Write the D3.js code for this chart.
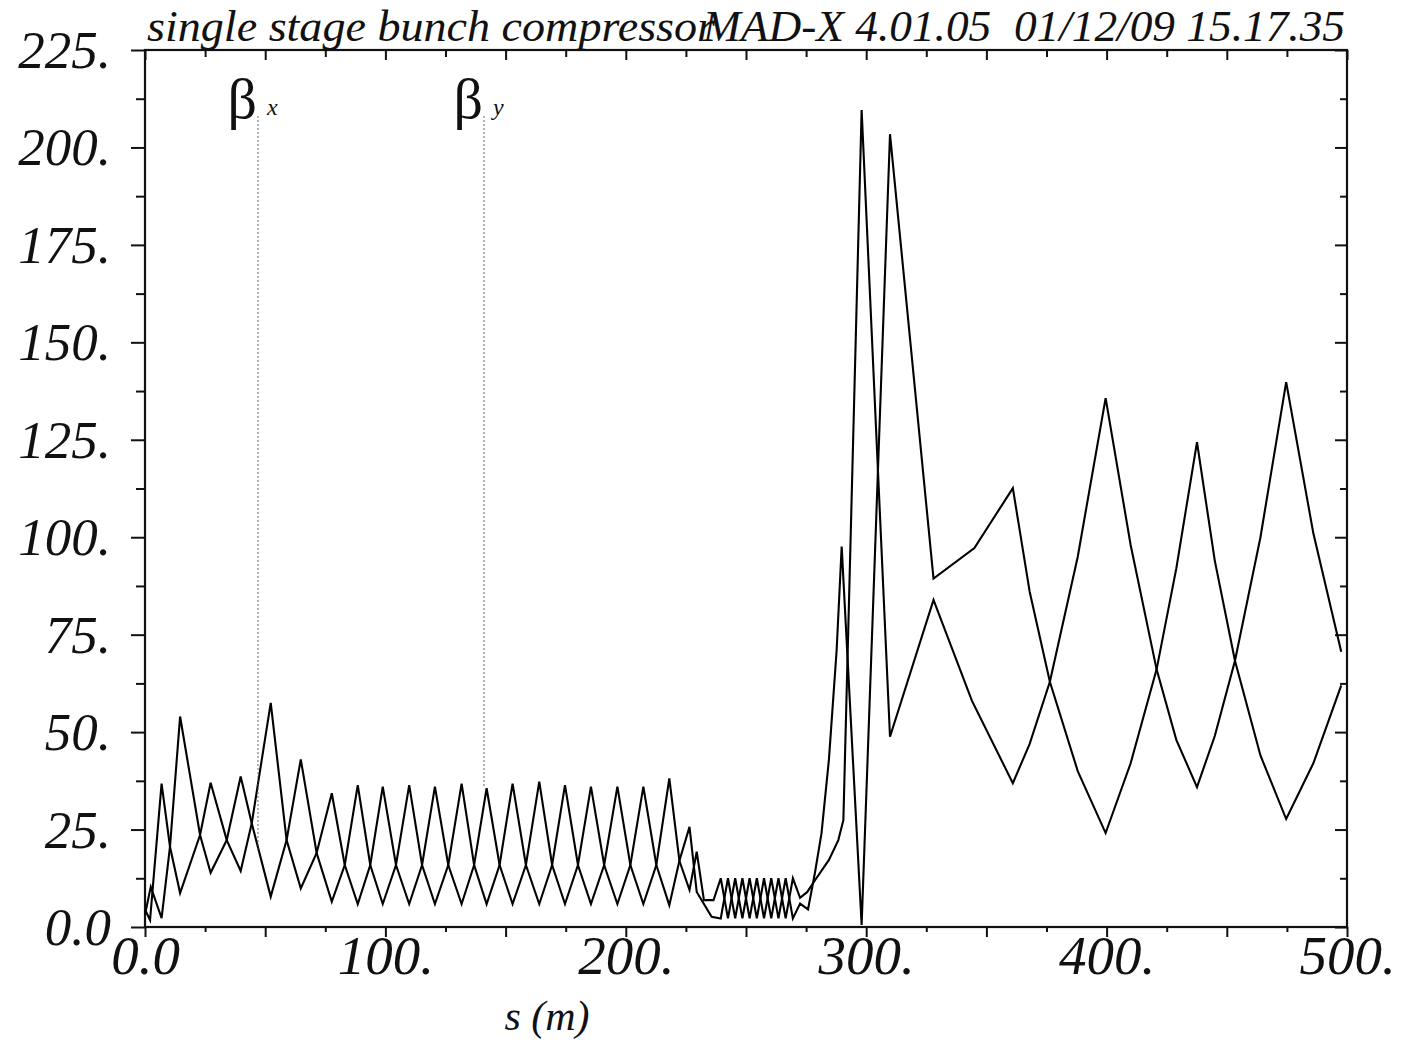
<!DOCTYPE html>
<html>
<head>
<meta charset="utf-8">
<script src="https://cdn.jsdelivr.net/npm/d3@7"></script>
<style>
  body { margin: 0; background: #fff; }
  text { font-family: "Liberation Serif", "DejaVu Serif", serif; }
</style>
</head>
<body>
<div id="chart"></div>
<script>
const TITLE_LEFT = "single stage bunch compressor";
const TITLE_RIGHT = "MAD-X 4.01.05  01/12/09 15.17.35";
const X_LABEL = "s (m)";

const xTicksMajor = [0, 50, 100, 150, 200, 250, 300, 350, 400, 450, 500];
const xTicksMinor = [25, 75, 125, 175, 225, 275, 325, 375, 425, 475];
const xTickLabels = {0: "0.0", 100: "100.", 200: "200.", 300: "300.", 400: "400.", 500: "500."};
const yTicksMajor = [0, 25, 50, 75, 100, 125, 150, 175, 200, 225];
const yTicksMinor = [12.5, 37.5, 62.5, 87.5, 112.5, 137.5, 162.5, 187.5, 212.5];
const yTickLabels = ["0.0", "25.", "50.", "75.", "100.", "125.", "150.", "175.", "200.", "225."];

// beta x
const sBetaX = [0, 2.4, 6.9, 10.4, 14.6, 22.9, 27.3, 34.0, 39.8, 44.4, 52.3, 58.9, 64.8, 71.4, 77.7,
  83.1, 88.5, 93.7, 98.9, 104.4, 109.9, 115.25, 120.6, 126.15, 131.7, 136.9, 142.1, 147.5, 152.9,
  158.45, 164, 169.35, 174.7, 180.1, 185.5, 191, 196.5, 201.9, 207.3, 212.7, 218.1, 222.3, 226.5,
  229.5, 232.5, 236.5, 239.5, 242.5, 245.5, 248.5, 251.5, 254.5, 257.5, 260.5, 263.5, 266.5, 269.5,
  272.5, 275.5, 278.7, 284.5, 288.4, 290.5, 298.1, 309.9, 328, 344, 361, 368, 376.4, 388, 399.6,
  410, 420.8, 429, 437.6, 445, 453.4, 464, 474.7, 486, 497.6];
const betaX = [3.2, 10.3, 2.3, 20.6, 54, 23.6, 13.9, 22.3, 38.6, 26.6, 7.8, 22.3, 43, 19, 6.5,
  15.9, 36.4, 15.9, 5.9, 15.9, 36.4, 15.9, 5.9, 15.9, 36.8, 15.9, 5.9, 15.9, 36.8,
  15.9, 5.9, 15.9, 36.4, 15.9, 5.9, 15.9, 36, 15.9, 5.9, 15.9, 38.1, 17, 9.5,
  19.3, 6.9, 6.9, 12.5, 2.2, 12.5, 2.2, 12.5, 2.2, 12.5, 2.2, 12.5, 2.2, 12.5,
  7.5, 9, 12, 17.2, 22.3, 27.4, 209.6, 48.8, 83.9, 58, 36.9, 47, 62.9, 95, 135.7,
  98, 66.1, 48, 35.9, 49, 68.3, 100, 139.8, 101, 70.6];

// beta y
const sBetaY = [0, 2.1, 6.9, 10.4, 14.6, 22.9, 27.3, 34.0, 39.8, 44.4, 52.3, 58.9, 64.8, 71.4, 77.7,
  83.1, 88.5, 93.7, 98.9, 104.4, 109.9, 115.25, 120.6, 126.15, 131.7, 136.9, 142.1, 147.5, 152.9,
  158.45, 164, 169.35, 174.7, 180.1, 185.5, 191, 196.5, 201.9, 207.3, 212.7, 218.1, 222.3, 226.5,
  229.5, 235.7, 239.5, 242.5, 245.5, 248.5, 251.5, 254.5, 257.5, 260.5, 263.5, 266.5, 269.5,
  272.5, 275.8, 278.7, 281.4, 284.5, 287.7, 289.8, 298.1, 309.9, 328, 345, 361, 368, 376.4, 388,
  399.6, 410, 420.8, 429, 437.6, 445, 453.4, 464, 474.7, 486, 497.6];
const betaY = [4.5, 1.8, 36.8, 20.6, 8.7, 23.6, 37, 22.3, 14.4, 26.6, 57.5, 22.3, 9.9, 19, 34.3,
  15.9, 5.9, 15.9, 36, 15.9, 5.9, 15.9, 36, 15.9, 5.9, 15.9, 35.6, 15.9, 5.9,
  15.9, 37.3, 15.9, 5.9, 15.9, 36, 15.9, 5.9, 15.9, 36, 15.9, 5.6, 17, 25.7,
  9, 2.6, 2.2, 12.5, 2.2, 12.5, 2.2, 12.5, 2.2, 12.5, 2.2, 12.5, 2.2,
  6, 4.5, 14, 24, 43, 71, 97.6, 0.5, 203.4, 89.4, 97.2, 112.6, 86, 62.9, 40,
  24.1, 42, 66.1, 92, 124.4, 94, 68.3, 44, 27.7, 42, 62];

// curve labels: name, subscript, s position, beta where the dotted leader ends
const labelNames = ["β", "β"];
const labelSubs = ["x", "y"];
const labelS = [47, 141];
const labelEnd = [19.7, 35.6];

const WIDTH = 1403, HEIGHT = 1042;
const margin = {left: 145, right: 56, top: 50, bottom: 115};

const svg = d3.select("#chart").append("svg")
  .attr("width", WIDTH)
  .attr("height", HEIGHT);

svg.append("rect").attr("width", WIDTH).attr("height", HEIGHT).attr("fill", "#fff");

const x = d3.scaleLinear().domain([0, 500]).range([margin.left, WIDTH - margin.right]);
const y = d3.scaleLinear().domain([0, 225]).range([HEIGHT - margin.bottom, margin.top]);

// ticks
function styleAxis(g) {
  g.select(".domain").remove();
  g.selectAll(".tick line").attr("stroke", "#111").attr("stroke-width", 2);
  g.selectAll(".tick text")
    .attr("fill", "#111")
    .style("font-family", "'Liberation Serif', serif")
    .style("font-style", "italic");
}

svg.append("g")
  .attr("transform", "translate(" + x(0) + ",0)")
  .call(d3.axisLeft(y).tickValues(yTicksMajor).tickSize(14).tickPadding(20)
    .tickFormat((d, i) => yTickLabels[i]))
  .call(styleAxis)
  .call(g => g.selectAll(".tick text").style("font-size", "53px").attr("dy", "0.33em"));

svg.append("g")
  .attr("transform", "translate(" + x(0) + ",0)")
  .call(d3.axisLeft(y).tickValues(yTicksMinor).tickSize(9).tickFormat(""))
  .call(styleAxis);

svg.append("g")
  .attr("transform", "translate(" + x(500) + ",0)")
  .call(d3.axisRight(y).tickValues(yTicksMajor).tickSize(-12).tickFormat(""))
  .call(styleAxis);

svg.append("g")
  .attr("transform", "translate(" + x(500) + ",0)")
  .call(d3.axisRight(y).tickValues(yTicksMinor).tickSize(-7).tickFormat(""))
  .call(styleAxis);

svg.append("g")
  .attr("transform", "translate(0," + y(0) + ")")
  .call(d3.axisBottom(x).tickValues(xTicksMajor).tickSize(10).tickPadding(0)
    .tickFormat(d => xTickLabels[d] || ""))
  .call(styleAxis)
  .call(g => g.selectAll(".tick text").style("font-size", "55px").attr("dy", "0.68em"));

svg.append("g")
  .attr("transform", "translate(0," + y(0) + ")")
  .call(d3.axisBottom(x).tickValues(xTicksMinor).tickSize(5).tickFormat(""))
  .call(styleAxis);

svg.append("g")
  .attr("transform", "translate(0," + y(225) + ")")
  .call(d3.axisTop(x).tickValues(xTicksMajor).tickSize(-10).tickFormat(""))
  .call(styleAxis);

svg.append("g")
  .attr("transform", "translate(0," + y(225) + ")")
  .call(d3.axisTop(x).tickValues(xTicksMinor).tickSize(-7).tickFormat(""))
  .call(styleAxis);

// frame
svg.append("rect")
  .attr("x", x(0))
  .attr("y", y(225))
  .attr("width", x(500) - x(0))
  .attr("height", y(0) - y(225))
  .attr("fill", "none")
  .attr("stroke", "#111")
  .attr("stroke-width", 2.2);

// curves
const line = d3.line()
  .x(d => x(d[0]))
  .y(d => y(d[1]));

const curves = [d3.zip(sBetaX, betaX), d3.zip(sBetaY, betaY)];

svg.append("g")
  .selectAll("path")
  .data(curves)
  .enter()
  .append("path")
  .attr("d", line)
  .attr("fill", "none")
  .attr("stroke", "#000")
  .attr("stroke-width", 2.1)
  .attr("stroke-linejoin", "miter");

// labels with dotted leaders
const labels = svg.append("g")
  .selectAll("g")
  .data(labelS)
  .enter()
  .append("g");

labels.append("line")
  .attr("x1", d => x(d))
  .attr("x2", d => x(d))
  .attr("y1", y(208))
  .attr("y2", (d, i) => y(labelEnd[i]))
  .attr("stroke", "#555")
  .attr("stroke-width", 1.2)
  .attr("stroke-dasharray", "1.5,2.5");

labels.append("text")
  .attr("x", d => x(d) - 1)
  .attr("y", y(208) + 2)
  .attr("text-anchor", "end")
  .style("font-size", "58px")
  .attr("fill", "#111")
  .text((d, i) => labelNames[i]);

labels.append("text")
  .attr("x", d => x(d) + 9)
  .attr("y", y(208) - 1)
  .style("font-size", "24px")
  .style("font-style", "italic")
  .attr("fill", "#111")
  .text((d, i) => labelSubs[i]);

// title and axis label
svg.append("text")
  .attr("x", 147)
  .attr("y", 41)
  .attr("textLength", 568)
  .attr("lengthAdjust", "spacingAndGlyphs")
  .style("font-size", "44px")
  .style("font-style", "italic")
  .attr("fill", "#111")
  .text(TITLE_LEFT);

svg.append("text")
  .attr("x", 703)
  .attr("y", 41)
  .attr("textLength", 642)
  .attr("lengthAdjust", "spacingAndGlyphs")
  .style("font-size", "44px")
  .style("font-style", "italic")
  .style("white-space", "pre")
  .attr("fill", "#111")
  .text(TITLE_RIGHT);

svg.append("text")
  .attr("x", 547)
  .attr("y", 1030)
  .attr("text-anchor", "middle")
  .style("font-size", "42px")
  .style("font-style", "italic")
  .attr("fill", "#111")
  .text(X_LABEL);
</script>
</body>
</html>
